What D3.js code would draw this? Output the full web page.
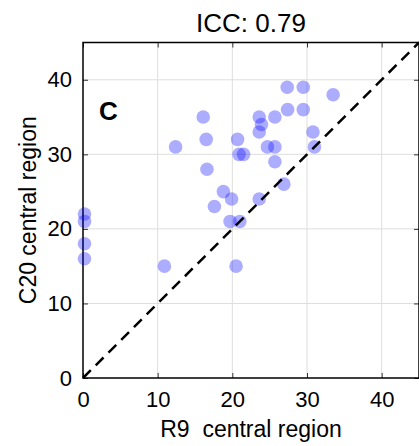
<!DOCTYPE html>
<html>
<head>
<meta charset="utf-8">
<script src="https://d3js.org/d3.v7.min.js"></script>
<style>
  body { margin: 0; background: #ffffff; }
  text { font-family: "Liberation Sans", Arial, sans-serif; fill: #000000; }
</style>
</head>
<body>
<div id="chart"></div>
<script>
// Data (R9 on x, C20 on y)
var r9Values = [0.2, 0.2, 0.2, 0.2, 10.9, 20.5, 12.4, 16.1, 16.5, 16.6, 17.6, 18.8,
  19.9, 19.7, 21.0, 20.7, 20.9, 21.5, 23.6, 23.9, 23.6, 23.6, 24.7, 25.7, 25.7, 25.7,
  26.9, 27.35, 27.4, 29.5, 29.5, 30.8, 31.0, 33.5];
var c20Values = [22, 21, 18, 16, 15, 15, 31, 35, 32, 28, 23, 25,
  24, 21, 21, 32, 30, 30, 35, 34, 33, 24, 31, 31, 35, 29,
  26, 39, 36, 39, 36, 33, 31, 38];
var xTicks = [0, 10, 20, 30, 40];
var yTicks = [0, 10, 20, 30, 40];
var axisMax = 45;
var titleText = "ICC: 0.79";
var xLabel = "R9  central region";
var yLabel = "C20 central region";
var panelLetter = "C";

var width = 419;
var height = 446;

// plot box edges (note: "top" is taken by window, so use plot* names)
var plotLeft = 83, plotRight = 419, plotTop = 42.5, plotBottom = 378;

var svg = d3.select("#chart")
  .append("svg")
  .attr("width", width)
  .attr("height", height);

var x = d3.scaleLinear().domain([0, axisMax]).range([plotLeft, plotRight]);
var y = d3.scaleLinear().domain([0, axisMax]).range([plotBottom, plotTop]);

// grid lines
svg.append("g")
  .selectAll("line")
  .data(xTicks.slice(1))
  .enter()
  .append("line")
  .attr("x1", function(d) { return x(d); })
  .attr("x2", function(d) { return x(d); })
  .attr("y1", plotTop)
  .attr("y2", plotBottom)
  .attr("stroke", "#dedede")
  .attr("stroke-width", 1);
svg.append("g")
  .selectAll("line")
  .data(yTicks.slice(1))
  .enter()
  .append("line")
  .attr("x1", plotLeft)
  .attr("x2", plotRight)
  .attr("y1", function(d) { return y(d); })
  .attr("y2", function(d) { return y(d); })
  .attr("stroke", "#dedede")
  .attr("stroke-width", 1);

// axes with inward ticks, labels drawn by the axis
var xAxis = d3.axisBottom(x).tickValues(xTicks).tickSizeInner(-5).tickSizeOuter(0).tickPadding(13);
var yAxis = d3.axisLeft(y).tickValues(yTicks).tickSizeInner(-5).tickSizeOuter(0).tickPadding(11);

var gx = svg.append("g")
  .attr("transform", "translate(0," + plotBottom + ")")
  .call(xAxis);
var gy = svg.append("g")
  .attr("transform", "translate(" + plotLeft + ",0)")
  .call(yAxis);

// top and right ticks (no labels)
svg.append("g")
  .attr("transform", "translate(0," + plotTop + ")")
  .call(d3.axisTop(x).tickValues(xTicks).tickSizeInner(-5).tickSizeOuter(0).tickFormat(""));
svg.append("g")
  .attr("transform", "translate(" + plotRight + ",0)")
  .call(d3.axisRight(y).tickValues(yTicks).tickSizeInner(-5).tickSizeOuter(0).tickFormat(""));

svg.selectAll(".domain").remove();
svg.selectAll(".tick line").attr("stroke", "#333333").attr("stroke-width", 1);
gx.selectAll("text").attr("font-size", 22).attr("font-family", "Liberation Sans, Arial, sans-serif");
gy.selectAll("text").attr("font-size", 22).attr("font-family", "Liberation Sans, Arial, sans-serif");

// box frame
svg.append("rect")
  .attr("x", plotLeft)
  .attr("y", plotTop)
  .attr("width", plotRight - plotLeft)
  .attr("height", plotBottom - plotTop)
  .attr("fill", "none")
  .attr("stroke", "#000000")
  .attr("stroke-width", 1.5);

// the points
var points = r9Values.map(function(v, i) { return { r9: v, c20: c20Values[i] }; });

svg.append("g")
  .selectAll("circle")
  .data(points)
  .enter()
  .append("circle")
  .attr("cx", function(d) { return x(d.r9); })
  .attr("cy", function(d) { return y(d.c20); })
  .attr("r", 6.8)
  .attr("fill", "#0000ff")
  .attr("fill-opacity", 0.32);

// identity line
svg.append("line")
  .attr("x1", x(0))
  .attr("y1", y(0))
  .attr("x2", x(axisMax))
  .attr("y2", y(axisMax))
  .attr("stroke", "#000000")
  .attr("stroke-width", 2.5)
  .attr("stroke-dasharray", "11,7");

// title, labels, panel letter
svg.append("text")
  .attr("x", (plotLeft + plotRight) / 2)
  .attr("y", 32)
  .attr("text-anchor", "middle")
  .attr("font-size", 26)
  .text(titleText);

svg.append("text")
  .attr("x", (plotLeft + plotRight) / 2)
  .attr("y", 437)
  .attr("text-anchor", "middle")
  .attr("font-size", 23)
  .style("white-space", "pre")
  .text(xLabel);

svg.append("text")
  .attr("transform", "translate(36," + ((plotTop + plotBottom) / 2) + ")rotate(-90)")
  .attr("text-anchor", "middle")
  .attr("font-size", 23)
  .text(yLabel);

svg.append("text")
  .attr("x", 99)
  .attr("y", 120)
  .attr("font-size", 26)
  .attr("font-weight", "bold")
  .text(panelLetter);
</script>
</body>
</html>
